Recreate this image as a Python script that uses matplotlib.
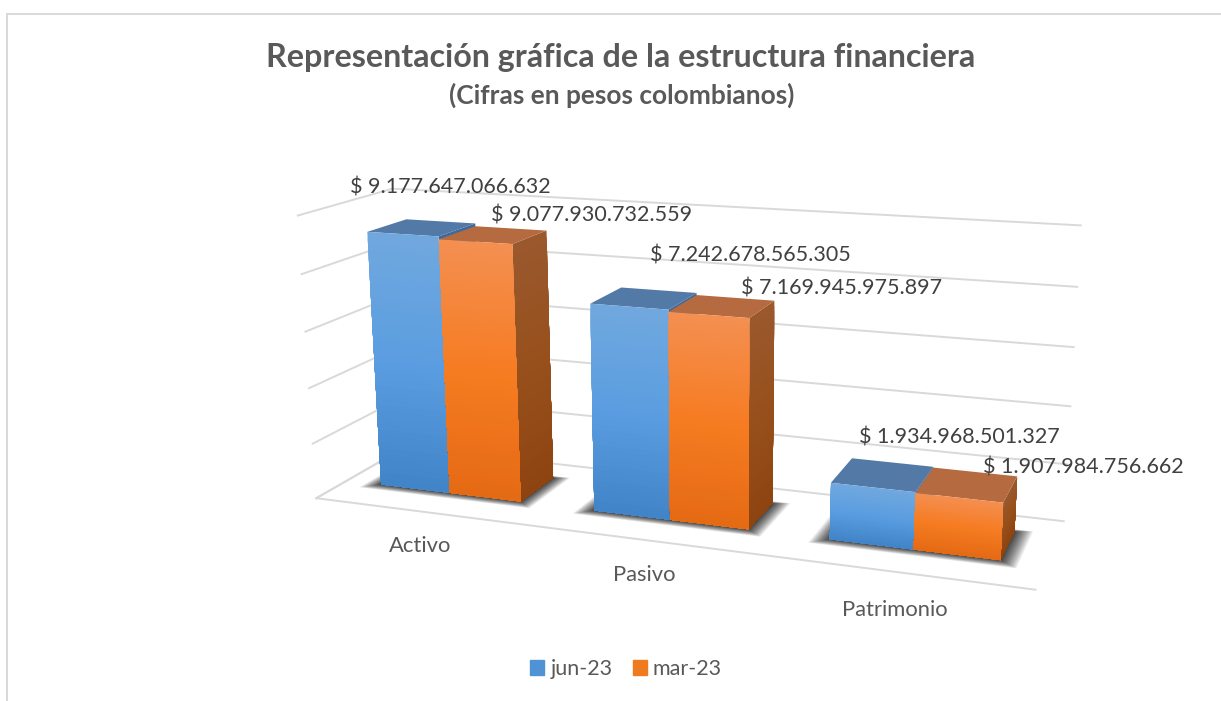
import numpy as np
import matplotlib
matplotlib.use("Agg")
import matplotlib.pyplot as plt
from matplotlib.colors import to_rgb
from matplotlib.lines import Line2D
from matplotlib.patches import Patch
from mpl_toolkits.mplot3d.art3d import Poly3DCollection

FIG_W, FIG_H = 1221, 701

categories = ["Activo", "Pasivo", "Patrimonio"]
series_names = ["jun-23", "mar-23"]
jun_23 = [9177647066632, 7242678565305, 1934968501327]
mar_23 = [9077930732559, 7169945975897, 1907984756662]
z_ticks = [0, 2e12, 4e12, 6e12, 8e12, 10e12]

# camera calibrated against the reference
ELEV, AZIM, ROLL, FOCAL = 14.8145, -69.7006, 0.3184, 0.3806
BOX = (np.exp(0.9137), np.exp(-0.463), 1.0)
SCALE, TX, TY = 4327.68, 680.43, 332.76
MARGIN, Y_FRONT, Y_BACK = 0.1674, 0.3271, 0.7576

GRID = "#d9d9d9"
FONT = ["Lato", "DejaVu Sans"]
BLUE_FRONT = ["#70a8de", "#5a9de0", "#4185c8"]
ORANGE_FRONT = ["#f48f50", "#f67c22", "#e56a14"]
BLUE_TOP, ORANGE_TOP = "#5379a6", "#b56a40"
BLUE_SIDE = ["#3e6a9b", "#3e6a9b", "#2f5f90"]
ORANGE_SIDE = ["#9a582d", "#97501c", "#8e4410"]


def px(x, y):
    return x / FIG_W, 1 - y / FIG_H


def ramp(stops, n):
    rgb = np.array([to_rgb(c) for c in stops])
    t = np.linspace(0, 1, n)
    return np.array([np.interp(t, [0, .5, 1], rgb[:, k]) for k in range(3)]).T


def add_poly(ax, verts, color, z):
    coll = Poly3DCollection(verts, facecolors=color, edgecolors="none", linewidths=0)
    coll.set_zorder(z)
    ax.add_collection3d(coll)


def draw_bar(ax, x0, x1, h, front, top, side, z, n=40):
    y0, y1 = Y_FRONT, Y_BACK
    levels = np.linspace(h, 0, n + 1)[:-1]
    side_c = ramp(side, n)
    front_c = ramp(front, n)
    # nested polygons, each one painted over the last, so no seams in the gradient
    for k, a in enumerate(levels):
        add_poly(ax, [[(x1, y0, a), (x1, y1, a), (x1, y1, 0), (x1, y0, 0)]], side_c[k], z + k / (2 * n))
        add_poly(ax, [[(x0, y0, a), (x1, y0, a), (x1, y0, 0), (x0, y0, 0)]], front_c[k], z + 2 + k / (2 * n))
    add_poly(ax, [[(x0, y0, h), (x1, y0, h), (x1, y1, h), (x0, y1, h)]], top, z + 1)


def draw_shadow(ax, x0, x1, z):
    verts = []
    for d in np.linspace(0.0, 1.0, 24) ** 1.2:
        dx, dy = 0.07 * d, 0.085 * d
        verts.append([(x0 - dx, Y_FRONT - dy, 0), (x1 + dx, Y_FRONT - dy, 0),
                      (x1 + dx, Y_BACK + dy * 0.4, 0), (x0 - dx, Y_BACK + dy * 0.4, 0)])
    coll = Poly3DCollection(verts, facecolors=(0, 0, 0, 0.05), edgecolors="none")
    coll.set_zorder(z)
    ax.add_collection3d(coll)


def money(v):
    return "$ " + f"{v:,.0f}".replace(",", ".")


def main():
    fig = plt.figure(figsize=(FIG_W / 100, FIG_H / 100), dpi=100)
    ax = fig.add_axes([0, 0, 1, 1], projection="3d")
    ax.set_xlim(0, 3)
    ax.set_ylim(0, 1)
    ax.set_zlim(z_ticks[0], z_ticks[-1])
    ax.view_init(elev=ELEV, azim=AZIM, roll=ROLL)
    ax.set_proj_type("persp", focal_length=FOCAL)
    ax.set_box_aspect(BOX)
    ax.computed_zorder = False
    ax.set_axis_off()
    ax.patch.set_alpha(0)

    # square axes placed so the projection lands where it does in the reference
    vx0, vx1 = ax.viewLim.intervalx
    vy0, vy1 = ax.viewLim.intervaly
    w = SCALE * (vx1 - vx0)
    h = SCALE * (vy1 - vy0)
    ax.set_position([(TX + SCALE * vx0) / FIG_W, (TY + SCALE * vy0) / FIG_H, w / FIG_W, h / FIG_H])

    for z in z_ticks:
        ax.plot([0, 0, 3], [0, 1, 1], [z, z, z], color=GRID, lw=1.4, zorder=1, clip_on=False)
    ax.plot([0, 3], [0, 0], [0, 0], color=GRID, lw=1.4, zorder=1, clip_on=False)
    ax.plot([0, 0], [0, 1], [0, 0], color=GRID, lw=1.4, zorder=1, clip_on=False)

    bar_w = (1 - 2 * MARGIN) / 2
    for i in range(len(categories)):
        x0 = i + MARGIN
        xm = x0 + bar_w
        x1 = xm + bar_w
        draw_shadow(ax, x0, x1, 2 + i * 10)
        draw_bar(ax, x0, xm, jun_23[i], BLUE_FRONT, BLUE_TOP, BLUE_SIDE, 3 + i * 10)
        draw_bar(ax, xm, x1, mar_23[i], ORANGE_FRONT, ORANGE_TOP, ORANGE_SIDE, 6 + i * 10)

    # frame of the chart
    fig.add_artist(Line2D([px(7, 0)[0], px(1220, 0)[0]], [px(0, 14)[1]] * 2, color=GRID, lw=1.4))
    fig.add_artist(Line2D([px(7, 0)[0]] * 2, [px(0, 14)[1], 0], color=GRID, lw=1.4))

    fig.text(*px(621, 58), "Representación gráfica de la estructura financiera", family=FONT,
             fontsize=23.2, fontweight="bold", color="#595959", ha="center", va="center")
    fig.text(*px(622, 95), "(Cifras en pesos colombianos)", family=FONT,
             fontsize=18.9, fontweight="bold", color="#595959", ha="center", va="center")

    # data labels were dragged by hand in the original, so placed one by one
    label_pos = [(450, 187), (592, 215), (750, 256), (842, 289), (959, 438), (1083, 468)]
    label_vals = [jun_23[0], mar_23[0], jun_23[1], mar_23[1], jun_23[2], mar_23[2]]
    for (x, y), v in zip(label_pos, label_vals):
        fig.text(*px(x, y), money(v), family=FONT, fontsize=15.5, color="#404040", ha="center", va="center")

    for name, (x, y) in zip(categories, [(420, 546), (644, 575), (895, 610)]):
        fig.text(*px(x, y), name, family=FONT, fontsize=15.8, color="#595959", ha="center", va="center")

    handles = [Patch(color="#5093d5"), Patch(color="#f07a20")]
    fig.legend(handles, series_names, loc="center", bbox_to_anchor=px(626, 669), ncol=2, frameon=False,
               prop={"family": FONT, "size": 15.5}, labelcolor="#595959", handlelength=0.65, handleheight=0.7,
               handletextpad=0.28, columnspacing=0.93)

    fig.savefig("out.png", dpi=100)


if __name__ == "__main__":
    main()
